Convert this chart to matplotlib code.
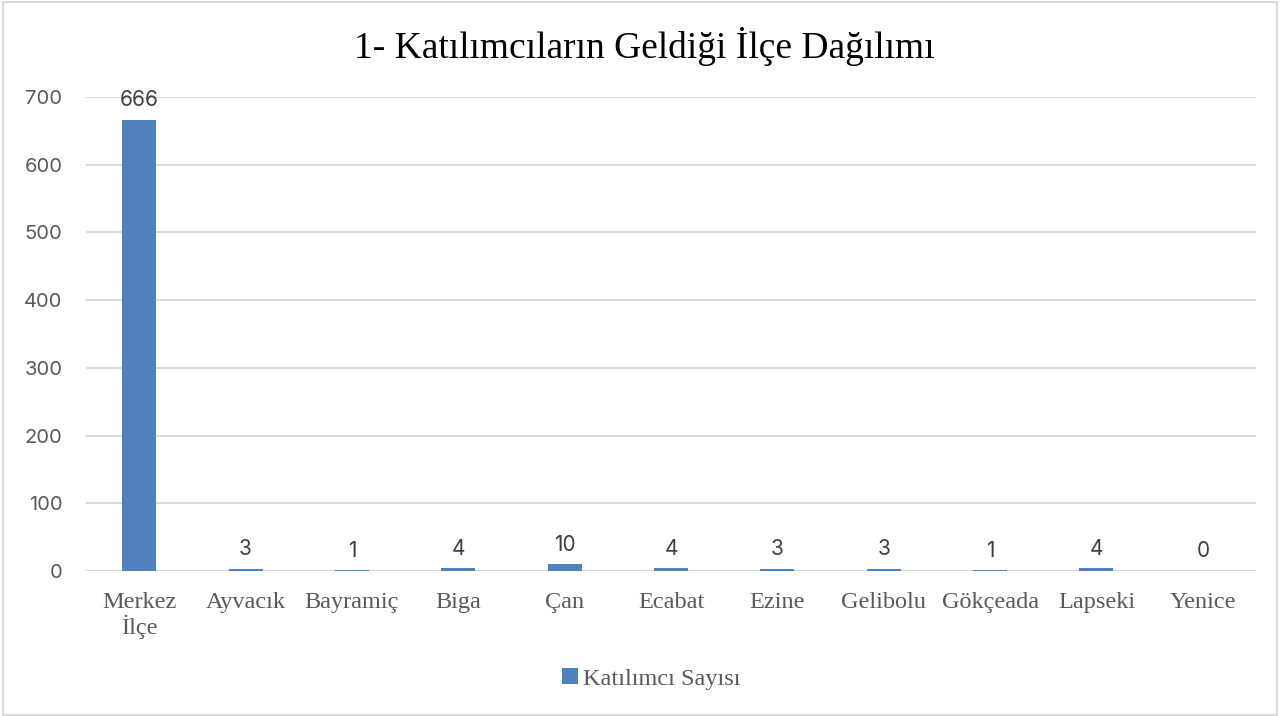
import matplotlib.pyplot as plt
from matplotlib.patches import Rectangle
import numpy as np

# Data
districts = ["Merkez\nİlçe", "Ayvacık", "Bayramiç", "Biga", "Çan", "Ecabat",
             "Ezine", "Gelibolu", "Gökçeada", "Lapseki", "Yenice"]
participants = [666, 3, 1, 4, 10, 4, 3, 3, 1, 4, 0]
yticks = [0, 100, 200, 300, 400, 500, 600, 700]

bar_color = "#4f81bd"
grid_color = "#d9d9d9"
text_color = "#595959"
serif = ["Liberation Serif", "DejaVu Serif"]
sans = ["Inter", "DejaVu Sans"]

fig = plt.figure(figsize=(12.88, 7.16), dpi=100)
ax = fig.add_axes([86 / 1288, 1 - 571 / 716, (1256 - 86) / 1288, (571 - 97) / 716])

x = np.arange(len(districts))
bars = ax.bar(x, participants, width=0.32, color=bar_color, zorder=3,
              label="Katılımcı Sayısı")

for xi, v in zip(x, participants):
    ax.annotate(str(v), (xi, v), xytext=(0, 7), textcoords="offset points",
                ha="center", va="bottom", fontsize=15, color="#404040",
                family=sans)

ax.set_xlim(-0.5, len(districts) - 0.5)
ax.set_ylim(0, 700)
ax.set_yticks(yticks)
ax.set_yticklabels([str(t) for t in yticks], fontsize=14.5, color=text_color,
                   family=sans)
ax.set_xticks(x)
ax.set_xticklabels(districts, fontsize=17.5, color=text_color, family=serif,
                   linespacing=1.1)
ax.tick_params(axis="both", length=0)
ax.tick_params(axis="y", pad=17)
ax.tick_params(axis="x", pad=15)
for s in ax.spines.values():
    s.set_visible(False)
ax.grid(axis="y", color=grid_color, linewidth=1.5, zorder=0)

fig.text(0.5, 1 - 47 / 716, "1- Katılımcıların Geldiği İlçe Dağılımı",
         ha="center", va="center", fontsize=27, color="black", family=serif)

leg = fig.legend(handles=[bars], labels=["Katılımcı Sayısı"], loc="center",
                 bbox_to_anchor=(651 / 1288, 1 - 679 / 716), frameon=False,
                 handlelength=0.65, handleheight=0.65, handletextpad=0.2,
                 prop={"family": serif, "size": 17.5})
for t in leg.get_texts():
    t.set_color(text_color)

# outer chart border
fig.add_artist(Rectangle((3 / 1288, 1 / 716), 1274 / 1288, 713 / 716,
                         transform=fig.transFigure, fill=False,
                         edgecolor=grid_color, linewidth=1.5))

fig.savefig("out.png", dpi=100)
